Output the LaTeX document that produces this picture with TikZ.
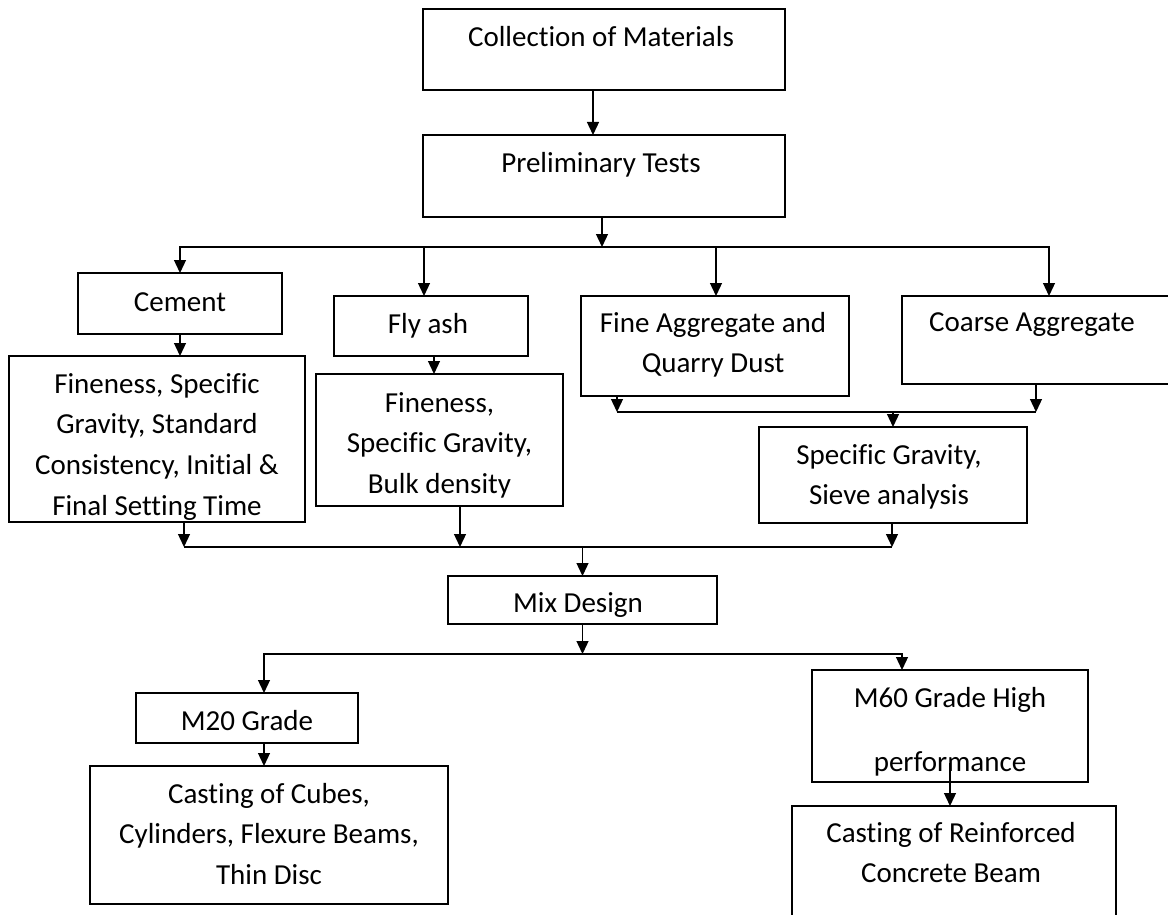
\documentclass[tikz,border=0pt]{standalone}
\usepackage{fontspec}
\setmainfont{Carlito}[Ligatures=NoCommon]
\usetikzlibrary{arrows.meta,calc}
\newcommand\mlines[1]{\begin{tabular}[t]{@{}c@{}}#1\end{tabular}}
\begin{document}
\begin{tikzpicture}[x=1pt,y=-1pt,
  box/.style={draw, line width=1.3pt, inner sep=0pt, outer sep=0pt, rectangle},
  txt/.style={anchor=base, inner sep=0pt, outer sep=0pt, font=\fontsize{29}{40.7}\selectfont},
  conn/.style={line width=1.3pt},
  arr/.style={line width=1.3pt, -{Triangle[length=13pt,width=12pt]}}]
\clip (0,0) rectangle (1168,915);
\fill[white] (0,0) rectangle (1168,915);

% boxes
\node[box, minimum width=362pt, minimum height=81pt] (coll) at (604,49.5) {};
\node[box, minimum width=362pt, minimum height=82pt] (prel) at (604,176) {};
\node[box, minimum width=204pt, minimum height=61pt] (cement) at (180,303.5) {};
\node[box, minimum width=296pt, minimum height=166pt] (ctest) at (157,439) {};
\node[box, minimum width=194pt, minimum height=60pt] (fly) at (431,326) {};
\node[box, minimum width=247pt, minimum height=132pt] (ftest) at (439.5,440) {};
\node[box, minimum width=268pt, minimum height=100pt] (fine) at (715,346) {};
\node[box, minimum width=278pt, minimum height=88pt] (coarse) at (1041,340) {};
\node[box, minimum width=268pt, minimum height=96pt] (spec) at (893,475) {};
\node[box, minimum width=269pt, minimum height=48pt] (mix) at (582.5,600) {};
\node[box, minimum width=222pt, minimum height=50pt] (m20) at (247,718) {};
\node[box, minimum width=358pt, minimum height=138pt] (cubes) at (269,835) {};
\node[box, minimum width=276pt, minimum height=112pt] (m60) at (950,726) {};
\node[box, minimum width=324pt, minimum height=134pt] (rc) at (954,873) {};

% texts
\node[txt] (t-coll) at (601,47) {Collection of Materials};
\node[txt] (t-prel) at (601,173) {Preliminary Tests};
\node[txt] (t-cement) at (180,311) {Cement};
\node[txt] (t-ctest) at (157,393) {\mlines{Fineness, Specific\\Gravity, Standard\\Consistency, Initial \&\\Final Setting Time}};
\node[txt] (t-fly) at (428,333) {Fly ash};
\node[txt] (t-ftest) at (439.5,412) {\mlines{Fineness,\\Specific Gravity,\\Bulk density}};
\node[txt] (t-fine) at (713,332) {\mlines{Fine Aggregate and\\Quarry Dust}};
\node[txt] (t-coarse) at (1032,331) {Coarse Aggregate};
\node[txt] (t-spec) at (889,464) {\mlines{Specific Gravity,\\Sieve analysis}};
\node[txt] (t-mix) at (578,612) {Mix Design};
\node[txt] (t-m20) at (247,730) {M20 Grade};
\node[txt] (t-cubes) at (269,803) {\mlines{Casting of Cubes,\\Cylinders, Flexure Beams,\\Thin Disc}};
\node[txt] (t-m60) at (950,707) {\mlines{M60 Grade High\\[23.5pt]performance}};
\node[txt] (t-rc) at (951,842) {\mlines{Casting of Reinforced\\Concrete Beam}};

% bus coordinates
\coordinate (b1) at (602,247);
\coordinate (b1a) at (180,247);
\coordinate (b1b) at (424,247);
\coordinate (b1c) at (716,247);
\coordinate (b1d) at (1049,247);
\coordinate (b3a) at (617,412);
\coordinate (b3b) at (1036,412);
\coordinate (b2a) at (184,547);
\coordinate (b2b) at (460,547);
\coordinate (b2c) at (892,547);
\coordinate (b4a) at (264,654);
\coordinate (b4b) at (902,654);

% connectors
\draw[arr] ([xshift=-11pt]coll.south) -- ([xshift=-11pt]prel.north);
\draw[arr] (prel.south -| b1) -- (b1);
\draw[arr] (b1) -- (b1a) -- (b1a |- cement.north);
\draw[arr] (b1) -- (b1d) -- (b1d |- coarse.north);
\draw[arr] (b1b) -- (b1b |- fly.north);
\draw[arr] (b1c) -- (b1c |- fine.north);
\draw[arr] (cement.south) -- (cement.south |- ctest.north);
\draw[arr] ([xshift=3pt]fly.south) -- ([xshift=3pt]fly.south |- ftest.north);
\draw[arr] (fine.south -| b3a) -- (b3a);
\draw[arr] (coarse.south -| b3b) -- (b3b);
\draw[conn] (b3a) -- (b3b);
\draw[arr] (spec.north |- b3a) -- (spec.north);
\draw[arr] (ctest.south -| b2a) -- (b2a);
\draw[arr] (ftest.south -| b2b) -- (b2b);
\draw[arr] (spec.south -| b2c) -- (b2c);
\draw[conn] (b2a) -- (b2c);
\draw[arr] (mix.north |- b2a) -- (mix.north);
\draw[arr] (mix.south) -- (mix.south |- b4a);
\draw[arr] (mix.south |- b4a) -- (b4a) -- (b4a |- m20.north);
\draw[arr] (mix.south |- b4a) -- (b4b) -- (b4b |- m60.north);
\draw[arr] (b4a |- m20.south) -- (b4a |- cubes.north);
\draw[arr] ([yshift=19pt]m60.south) -- (m60.south |- rc.north);
\end{tikzpicture}
\end{document}
